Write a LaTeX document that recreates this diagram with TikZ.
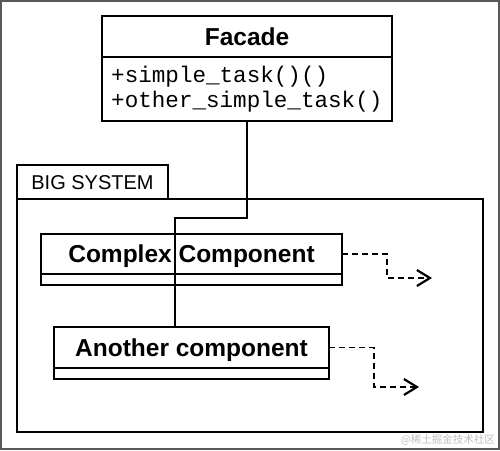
\documentclass[tikz,border=0pt]{standalone}
\usepackage{fontspec}
\setmainfont{Liberation Sans}
\newfontfamily\monof{Liberation Mono}
\newfontfamily\cjk{Noto Sans CJK SC}
\usetikzlibrary{arrows.meta}
\tikzset{
  box/.style={draw, line width=1.4pt, rectangle, inner sep=0pt, outer sep=0pt, anchor=north west},
  titletext/.style={font=\bfseries\fontsize{24.5}{26}\selectfont, text height=17.6pt, text depth=0pt},
  meth/.style={font=\monof\fontsize{22.6}{25}\selectfont, anchor=base west, inner sep=0pt},
  dep/.style={line width=1.3pt, dash pattern=on 6pt off 4pt, -{Straight Barb[length=13pt,width=16pt,line width=2.2pt]}},
  link/.style={line width=1.4pt}
}
\begin{document}
\begin{tikzpicture}[x=1pt,y=-1pt]
\useasboundingbox (0,0) rectangle (500,450);
\fill[white] (0,0) rectangle (500,450);
\draw[black!65, line width=2pt] (1,1) rectangle (499,449);
% Facade
\node[box, titletext, minimum width=290pt, minimum height=41pt] (ftitle) at (102,16) {Facade};
\node[box, minimum width=290pt, minimum height=64pt] (fmeth) at (102,57) {};
\node[meth] (m1) at (111,82) {+simple\_task()()};
\node[meth] (m2) at (111,107) {+other\_simple\_task()};
% Big system
\node[box, minimum width=151pt, minimum height=34pt, font=\fontsize{20}{22}\selectfont, text height=14.4pt, text depth=0pt] (tab) at (17,165) {BIG SYSTEM};
\node[box, minimum width=466pt, minimum height=233pt] (sys) at (17,199) {};
% Complex component
\node[box, titletext, minimum width=301pt, minimum height=40pt] (cct) at (41,234) {Complex Component};
\node[box, minimum width=301pt, minimum height=11pt] (cca) at (41,274) {};
% Another component
\node[box, titletext, minimum width=275pt, minimum height=41pt] (act) at (54,327) {Another component};
\node[box, minimum width=275pt, minimum height=11pt] (aca) at (54,368) {};
% connector
\coordinate (j) at (175,218);
\draw[link] (fmeth.south) |- (j) -- (j |- act.north);
% dependencies
\coordinate (ccend) at (432,278);
\coordinate (acend) at (419,387);
\draw[dep] (cct.east) -- ++(45,0) |- (ccend);
\draw[dep] (act.east) -- ++(45,0) |- (acend);
% watermark
\node[font=\cjk\fontsize{10.5}{12}\selectfont, text=black!25, anchor=east, inner sep=0pt] (wm) at (495,440) {@稀土掘金技术社区};
\end{tikzpicture}
\end{document}
